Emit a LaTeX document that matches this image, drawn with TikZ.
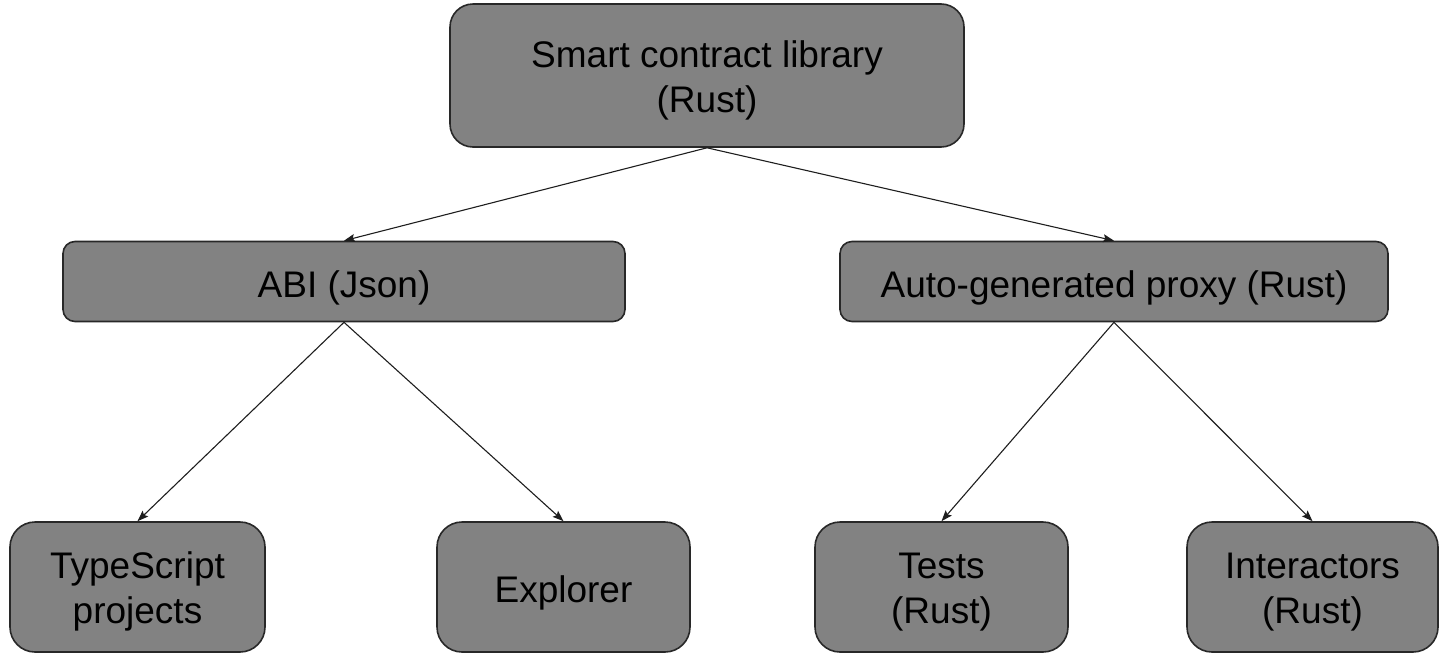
\documentclass[tikz,border=0pt]{standalone}
\usepackage{fontspec}
\setmainfont{Liberation Sans}
\usetikzlibrary{arrows.meta}
\definecolor{boxfill}{RGB}{130,130,130}
\definecolor{boxline}{RGB}{40,40,40}
\definecolor{arrowline}{RGB}{30,30,30}
\tikzset{
  box/.style={draw=boxline, fill=boxfill, line width=1.6pt, inner sep=0pt,
    align=center, font=\fontsize{37}{45}\selectfont},
  % the text box is measured from the baseline of its last line
  oneline/.style={text height=31pt, text depth=0pt},
  twoline/.style={text height=73pt, text depth=0pt},
  bigbox/.style={box, twoline, rounded corners=23pt, minimum width=514pt, minimum height=143pt},
  midbox/.style={box, oneline, rounded corners=12pt, minimum height=80pt},
  leafbox/.style={box, rounded corners=25pt, minimum width=253pt, minimum height=130pt},
  link/.style={draw=arrowline, line width=1.1pt,
    -{Stealth[length=11pt, width=8pt, inset=2pt]}},
}
\begin{document}
\begin{tikzpicture}[x=1pt, y=-1pt]
  \useasboundingbox (0,0) rectangle (1439,654);

  % root
  \node[bigbox] (lib) at (707,75.5) {Smart contract library\\(Rust)};

  % second level
  \node[midbox, minimum width=562pt] (abi) at (344,281.5) {ABI (Json)};
  \node[midbox, minimum width=548pt] (proxy) at (1114,281.5) {Auto-generated proxy (Rust)};

  % leaves
  \node[leafbox, twoline, minimum width=255pt] (ts) at (137.5,587) {TypeScript\\projects};
  \node[leafbox, oneline] (explorer) at (563.5,587) {Explorer};
  \node[leafbox, twoline] (tests) at (941.5,587) {Tests\\(Rust)};
  \node[leafbox, twoline, minimum width=251pt] (inter) at (1312.5,587) {Interactors\\(Rust)};

  % connectors
  \draw[link] (lib.south) -- (abi.north);
  \draw[link] (lib.south) -- (proxy.north);
  \draw[link] (abi.south) -- (ts.north);
  \draw[link] (abi.south) -- (explorer.north);
  \draw[link] (proxy.south) -- (tests.north);
  \draw[link] (proxy.south) -- (inter.north);
\end{tikzpicture}
\end{document}
